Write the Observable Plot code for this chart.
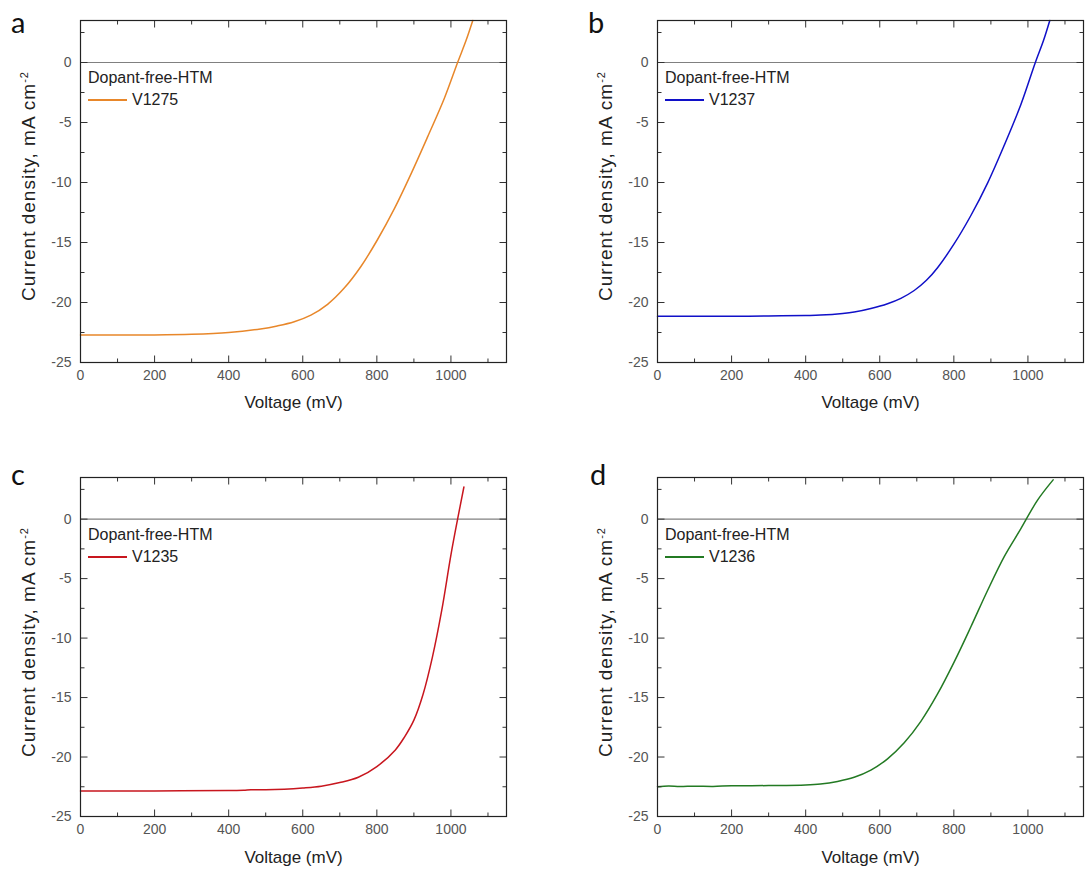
<!DOCTYPE html>
<html>
<head>
<meta charset="utf-8">
<script src="https://cdn.jsdelivr.net/npm/d3@7"></script>
<script src="https://cdn.jsdelivr.net/npm/@observablehq/plot@0.6"></script>
<style>
  html, body { margin: 0; padding: 0; background: #fff; }
  #root { position: relative; width: 1086px; height: 869px; overflow: hidden; font-family: "Liberation Sans", Arial, sans-serif; }
  .panel { position: absolute; }
  .letter { position: absolute; font-family: Lato, "Open Sans", sans-serif; font-size: 29px; color: #111; line-height: 1; }
  .leg { position: absolute; font-family: "Liberation Sans", Arial, sans-serif; font-size: 16px; color: #222; line-height: 1; white-space: nowrap; }
  .legline { position: absolute; height: 0; width: 39px; }
  .ylab { position: absolute; font-family: "Liberation Sans", Arial, sans-serif; font-size: 19px; color: #222; white-space: nowrap; line-height: 1; letter-spacing: 1px;
          transform: translate(-50%, -50%) rotate(-90deg); }
  .ylab sup { font-size: 11px; vertical-align: 0.55em; }
</style>
</head>
<body>
<div id="root"></div>
<script>
// ---------- data ----------
const xTickLabels = [0, 200, 400, 600, 800, 1000];
const xMinorTicks = [100, 300, 500, 700, 900, 1100];
const yTickLabels = [-25, -20, -15, -10, -5, 0];
const yMinorTicks = [-22.5, -17.5, -12.5, -7.5, -2.5, 2.5];

const panelLetters = ["a", "b", "c", "d"];
const legendTitle = "Dopant-free-HTM";
const seriesNames = ["V1275", "V1237", "V1235", "V1236"];
const seriesColors = ["#E8872A", "#1010C8", "#C8161E", "#237A23"];

const voltageA = [0, 100, 200, 300, 400, 486, 531, 577, 622, 667, 712, 757, 802, 847, 892, 937, 982, 1018, 1041, 1059];
const currentA = [-22.7, -22.7, -22.7, -22.65, -22.5, -22.2, -21.95, -21.6, -21.05, -20.15, -18.8, -17.0, -14.75, -12.2, -9.3, -6.2, -3.0, 0, 1.85, 3.5];

const voltageB = [0, 100, 200, 300, 400, 440, 500, 531, 576, 621, 657, 693, 726, 756, 801, 846, 891, 936, 981, 1020, 1042, 1059];
const currentB = [-21.15, -21.15, -21.15, -21.12, -21.08, -21.05, -20.92, -20.8, -20.5, -20.1, -19.65, -19.0, -18.15, -17.1, -15.1, -12.75, -10.05, -6.9, -3.5, 0, 1.83, 3.5];

const voltageC = [0, 200, 400, 440, 460, 500, 550, 600, 650, 700, 750, 800, 850, 875, 900, 925, 950, 975, 1000, 1018, 1035];
const currentC = [-22.85, -22.85, -22.82, -22.8, -22.75, -22.75, -22.7, -22.6, -22.45, -22.15, -21.7, -20.8, -19.4, -18.3, -16.9, -14.7, -11.6, -7.7, -3.0, 0, 2.7];

const voltageD = [0, 30, 60, 100, 150, 200, 300, 400, 440, 486, 531, 576, 621, 666, 711, 756, 801, 846, 891, 936, 981, 1026, 1068];
const currentD = [-22.5, -22.44, -22.48, -22.45, -22.47, -22.42, -22.4, -22.35, -22.27, -22.05, -21.7, -21.1, -20.15, -18.8, -17.0, -14.7, -12.0, -9.05, -6.0, -3.15, -0.8, 1.6, 3.3];

const xLabel = "Voltage (mV)";
const yLabelMain = "Current density, mA cm";
const yLabelSup = "-2";

// ---------- layout ----------
const panels = [
  {V: voltageA, J: currentA, left: 0,   top: 0,   width: 520, height: 420, mt: 20, mb: 58, mr: 14, xLabDy: 40, letterX: 11,  letterY: 7},
  {V: voltageB, J: currentB, left: 577, top: 0,   width: 509, height: 420, mt: 20, mb: 58, mr: 3,  xLabDy: 40, letterX: 588, letterY: 7},
  {V: voltageC, J: currentC, left: 0,   top: 456, width: 520, height: 413, mt: 21, mb: 53, mr: 14, xLabDy: 41, letterX: 11,  letterY: 459},
  {V: voltageD, J: currentD, left: 577, top: 456, width: 509, height: 413, mt: 21, mb: 53, mr: 3,  xLabDy: 41, letterX: 590, letterY: 459}
];
const ML = 80;
const yDom = [-25, 3.5], xDom = [0, 1150];
const root = document.getElementById("root");

panels.forEach((p, i) => {
  const data = p.V.map((v, k) => ({v, j: p.J[k]}));
  const H = p.height - p.mt - p.mb;
  const W = p.width - ML - p.mr;
  const yu = (yDom[1] - yDom[0]) / H;   // data units per px (y)
  const xu = (xDom[1] - xDom[0]) / W;   // data units per px (x)
  const major = 7, minor = 4;
  const tc = "#333";
  // inward tick segments, mirrored on all four sides
  const ticks = [];
  xTickLabels.forEach(x => { ticks.push({x1: x, x2: x, y1: yDom[0], y2: yDom[0] + major * yu}); ticks.push({x1: x, x2: x, y1: yDom[1], y2: yDom[1] - major * yu}); });
  xMinorTicks.forEach(x => { ticks.push({x1: x, x2: x, y1: yDom[0], y2: yDom[0] + minor * yu}); ticks.push({x1: x, x2: x, y1: yDom[1], y2: yDom[1] - minor * yu}); });
  yTickLabels.forEach(y => { ticks.push({y1: y, y2: y, x1: xDom[0], x2: xDom[0] + major * xu}); ticks.push({y1: y, y2: y, x1: xDom[1], x2: xDom[1] - major * xu}); });
  yMinorTicks.forEach(y => { ticks.push({y1: y, y2: y, x1: xDom[0], x2: xDom[0] + minor * xu}); ticks.push({y1: y, y2: y, x1: xDom[1], x2: xDom[1] - minor * xu}); });

  const chart = Plot.plot({
    width: p.width,
    height: p.height,
    marginLeft: ML,
    marginRight: p.mr,
    marginTop: p.mt,
    marginBottom: p.mb,
    style: {fontFamily: "'Liberation Sans', Arial, sans-serif", background: "transparent", overflow: "visible"},
    x: {domain: xDom},
    y: {domain: yDom},
    marks: [
      Plot.ruleY([0], {stroke: "#808080", strokeWidth: 1.2}),
      Plot.line(data, {x: "v", y: "j", stroke: seriesColors[i], strokeWidth: 1.5, curve: "catmull-rom"}),
      Plot.link(ticks, {x1: "x1", y1: "y1", x2: "x2", y2: "y2", stroke: tc, strokeWidth: 1}),
      Plot.frame({stroke: "#222", strokeWidth: 1.2}),
      Plot.axisX({ticks: xTickLabels, tickSize: 0, tickPadding: 8, fontSize: 14, fill: "#555", label: null, tickFormat: d => String(d)}),
      Plot.axisY({ticks: yTickLabels, tickSize: 0, tickPadding: 9, fontSize: 14, fill: "#555", label: null, tickFormat: d => String(d)}),
      Plot.text([xLabel], {frameAnchor: "bottom", dy: p.xLabDy, text: d => d, fontSize: 17, fill: "#222", lineAnchor: "middle", textAnchor: "middle"})
    ]
  });
  const div = document.createElement("div");
  div.className = "panel";
  div.style.left = p.left + "px";
  div.style.top = p.top + "px";
  div.appendChild(chart);
  root.appendChild(div);

  // y label (rotated, with superscript)
  const yl = document.createElement("div");
  yl.className = "ylab";
  yl.innerHTML = yLabelMain + "<sup>" + yLabelSup + "</sup>";
  yl.style.left = (p.left + 28) + "px";
  yl.style.top = (p.top + p.mt + H / 2 - 5) + "px";
  root.appendChild(yl);

  // panel letter
  const L = document.createElement("div");
  L.className = "letter";
  L.textContent = panelLetters[i];
  L.style.left = p.letterX + "px";
  L.style.top = p.letterY + "px";
  root.appendChild(L);

  // legend
  const zeroY = Math.round(p.top + p.mt + H * (yDom[1] / (yDom[1] - yDom[0])));
  const t1 = document.createElement("div");
  t1.className = "leg";
  t1.textContent = legendTitle;
  t1.style.left = (p.left + 88) + "px";
  t1.style.top = (zeroY + 8) + "px";
  root.appendChild(t1);
  const ln = document.createElement("div");
  ln.className = "legline";
  ln.style.left = (p.left + 88) + "px";
  ln.style.top = (zeroY + 37) + "px";
  ln.style.borderTop = "2px solid " + seriesColors[i];
  root.appendChild(ln);
  const t2 = document.createElement("div");
  t2.className = "leg";
  t2.textContent = seriesNames[i];
  t2.style.left = (p.left + 132) + "px";
  t2.style.top = (zeroY + 30) + "px";
  root.appendChild(t2);
});
</script>
</body>
</html>
